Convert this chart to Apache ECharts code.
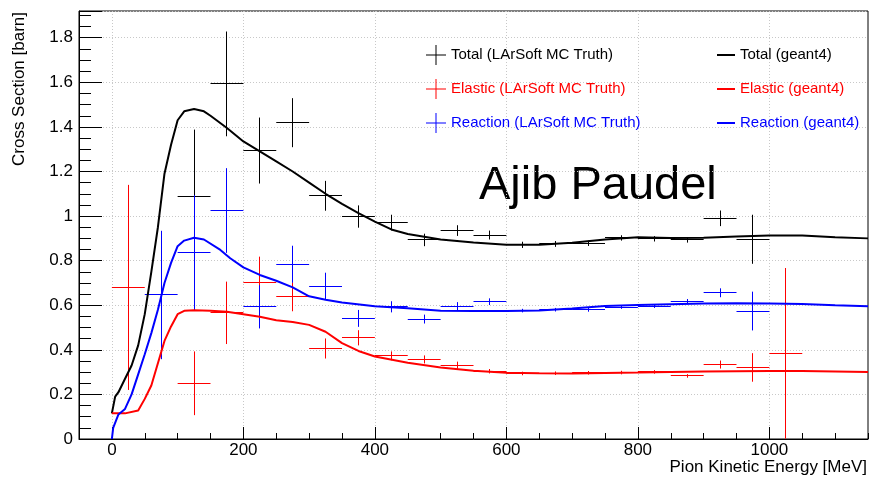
<!DOCTYPE html>
<html>
<head>
<meta charset="utf-8">
<script src="https://cdn.jsdelivr.net/npm/echarts@6.0.0/dist/echarts.min.js"></script>
<style>
  html, body { margin: 0; padding: 0; background: #fff; }
  #chart { width: 869px; height: 477px; }
</style>
</head>
<body>
<div id="chart"></div>
<script>
// bins are 50 MeV wide, centred at 25, 75, ...
const binCenters = [25, 75, 125, 175, 225, 275, 325, 375, 425, 475, 525, 575, 625, 675, 725, 775, 825, 875, 925, 975, 1025];
const binHalfWidth = 25;

// LArSoft MC truth points (null = no point drawn)
const totalMC    = [null, null, 1.088, 1.593, 1.294, 1.419, 1.091, 0.998, 0.971, 0.893, 0.935, 0.915, 0.871, 0.875, 0.878, 0.902, 0.898, 0.893, 0.990, 0.896, null];
const totalMCErr = [null, null, 0.300, 0.235, 0.148, 0.110, 0.067, 0.050, 0.035, 0.028, 0.024, 0.020, 0.014, 0.013, 0.012, 0.012, 0.012, 0.012, 0.035, 0.110, null];
const elasticMC    = [0.680, null, 0.250, 0.566, 0.703, 0.638, 0.406, 0.454, 0.373, 0.357, 0.331, 0.304, 0.294, 0.295, 0.297, 0.298, 0.301, 0.283, 0.334, 0.321, 0.384];
const elasticMCErr = [0.460, null, 0.143, 0.140, 0.115, 0.065, 0.045, 0.034, 0.020, 0.018, 0.016, 0.010, 0.008, 0.008, 0.008, 0.008, 0.008, 0.008, 0.018, 0.064, 0.383];
const reactionMC    = [null, 0.646, 0.836, 1.025, 0.593, 0.784, 0.686, 0.541, 0.593, 0.538, 0.596, 0.616, 0.576, 0.580, 0.581, 0.592, 0.596, 0.616, 0.656, 0.574, null];
const reactionMCErr = [null, 0.288, 0.258, 0.190, 0.097, 0.083, 0.060, 0.038, 0.025, 0.020, 0.018, 0.015, 0.008, 0.008, 0.010, 0.008, 0.008, 0.012, 0.020, 0.087, null];

// geant4 curves
const totalG4X = [0, 5, 10, 20, 30, 40, 50, 60, 70, 80, 90, 100, 110, 125, 140, 150, 175, 200, 225, 250, 275, 300, 325, 350, 375, 400, 425, 450, 500, 550, 600, 650, 700, 750, 800, 850, 900, 950, 1000, 1050, 1100, 1150];
const totalG4  = [0.115, 0.19, 0.21, 0.27, 0.33, 0.42, 0.56, 0.75, 0.95, 1.19, 1.32, 1.43, 1.47, 1.48, 1.47, 1.45, 1.395, 1.335, 1.29, 1.245, 1.20, 1.15, 1.10, 1.055, 1.013, 0.975, 0.94, 0.92, 0.895, 0.881, 0.871, 0.871, 0.88, 0.895, 0.905, 0.902, 0.903, 0.908, 0.913, 0.913, 0.905, 0.90];
const elasticG4X = [0, 20, 40, 50, 60, 70, 80, 90, 100, 110, 125, 150, 175, 200, 225, 250, 275, 300, 325, 350, 375, 400, 450, 500, 550, 600, 650, 700, 750, 800, 850, 900, 950, 1000, 1050, 1100, 1150];
const elasticG4  = [0.115, 0.115, 0.128, 0.18, 0.24, 0.34, 0.44, 0.505, 0.56, 0.575, 0.578, 0.575, 0.571, 0.56, 0.548, 0.533, 0.525, 0.512, 0.481, 0.43, 0.395, 0.37, 0.342, 0.321, 0.306, 0.297, 0.295, 0.294, 0.296, 0.298, 0.301, 0.303, 0.304, 0.305, 0.305, 0.303, 0.301];
const reactionG4X = [0, 2, 10, 20, 30, 40, 50, 60, 70, 80, 90, 100, 110, 125, 140, 165, 180, 200, 225, 250, 275, 300, 325, 350, 400, 450, 500, 550, 600, 650, 700, 750, 800, 850, 900, 950, 1000, 1050, 1100, 1150];
const reactionG4  = [0, 0.05, 0.11, 0.135, 0.2, 0.29, 0.38, 0.475, 0.58, 0.70, 0.79, 0.865, 0.89, 0.903, 0.895, 0.848, 0.811, 0.77, 0.736, 0.71, 0.68, 0.64, 0.625, 0.612, 0.596, 0.586, 0.575, 0.574, 0.574, 0.576, 0.585, 0.597, 0.601, 0.605, 0.608, 0.609, 0.608, 0.606, 0.60, 0.596];

const xMajorTicks = [0, 200, 400, 600, 800, 1000];

const FONT = 'Liberation Sans';
const chart = echarts.init(document.getElementById('chart'));

function points(vals, errs) {
  const out = [];
  binCenters.forEach((x, i) => {
    if (vals[i] != null) out.push([x, vals[i], errs[i]]);
  });
  return out;
}

function curve(xs, ys) {
  return xs.map((x, i) => [x, ys[i]]);
}

// snap to pixel centre so 1px lines stay crisp
const crisp = v => Math.round(v - 0.5) + 0.5;

function errorBars(color) {
  return function (params, api) {
    const x = api.value(0), y = api.value(1), e = api.value(2);
    const l = api.coord([x - binHalfWidth, y]);
    const r = api.coord([x + binHalfWidth, y]);
    const t = api.coord([x, y + e]);
    const b = api.coord([x, Math.max(y - e, 0)]);
    const style = { stroke: color, lineWidth: 1 };
    const cy = crisp(l[1]), cx = crisp(t[0]);
    return {
      type: 'group',
      children: [
        { type: 'line', shape: { x1: l[0], y1: cy, x2: r[0], y2: cy }, style },
        { type: 'line', shape: { x1: cx, y1: t[1], x2: cx, y2: b[1] }, style }
      ]
    };
  };
}

const gridLine = { show: true, lineStyle: { color: '#c8c8c8', type: [1, 2], width: 1 } };
const crossIcon = 'path://M0,9.5H20V10.5H0Z M9.5,0H10.5V20H9.5Z';
const lineIcon = 'path://M0,0H18V2H0Z';

const option = {
  animation: false,
  backgroundColor: '#fff',
  grid: { left: 79, right: 1, top: 11, bottom: 38, show: true, borderColor: '#000', borderWidth: 1, backgroundColor: 'transparent' },
  legend: [
    {
      left: 426, top: 45, padding: 0, orient: 'vertical', itemGap: 14,
      itemWidth: 20, itemHeight: 20,
      textStyle: { fontFamily: FONT, fontSize: 15, lineHeight: 20 },
      data: [
        { name: 'Total (LArSoft MC Truth)', icon: crossIcon, textStyle: { color: '#000' } },
        { name: 'Elastic (LArSoft MC Truth)', icon: crossIcon, textStyle: { color: '#ff0000' } },
        { name: 'Reaction (LArSoft MC Truth)', icon: crossIcon, textStyle: { color: '#0000ff' } }
      ]
    },
    {
      left: 717, top: 45, padding: 0, orient: 'vertical', itemGap: 14,
      itemWidth: 18, itemHeight: 2,
      textStyle: { fontFamily: FONT, fontSize: 15, lineHeight: 20 },
      data: [
        { name: 'Total (geant4)', icon: lineIcon, textStyle: { color: '#000' } },
        { name: 'Elastic (geant4)', icon: lineIcon, textStyle: { color: '#ff0000' } },
        { name: 'Reaction (geant4)', icon: lineIcon, textStyle: { color: '#0000ff' } }
      ]
    }
  ],
  xAxis: [
    {
      type: 'value', min: -50, max: 1150, interval: 50,
      axisLine: { show: true, onZero: false, lineStyle: { color: '#000', width: 1 } },
      axisTick: { show: true, inside: true, length: 6, lineStyle: { color: '#000' } },
      axisLabel: { show: false },
      splitLine: { show: false }
    },
    {
      type: 'value', min: -50, max: 1150, position: 'bottom',
      axisLine: { show: false, onZero: false },
      axisTick: { show: true, inside: true, length: 12, customValues: xMajorTicks, lineStyle: { color: '#000' } },
      axisLabel: { customValues: xMajorTicks, color: '#000', fontFamily: FONT, fontSize: 17, margin: 3, formatter: v => String(v) },
      splitLine: gridLine
    }
  ],
  yAxis: [
    {
      type: 'value', min: 0, max: 1.92, interval: 0.05,
      axisLine: { show: true, onZero: false, lineStyle: { color: '#000', width: 1 } },
      axisTick: { show: true, inside: true, length: 12, lineStyle: { color: '#000' } },
      axisLabel: { show: false },
      splitLine: { show: false }
    },
    {
      type: 'value', min: 0, max: 1.92, interval: 0.2, position: 'left',
      axisLine: { show: false, onZero: false },
      axisTick: { show: true, inside: true, length: 23, lineStyle: { color: '#000' } },
      axisLabel: {
        color: '#000', fontFamily: FONT, fontSize: 17, margin: 6,
        formatter: v => (Math.abs(v / 0.2 - Math.round(v / 0.2)) < 1e-6 ? String(Math.round(v * 10) / 10) : '')
      },
      splitLine: gridLine
    }
  ],
  graphic: [
    {
      type: 'text', x: 19, y: 12, rotation: Math.PI / 2,
      style: { text: 'Cross Section [barn]', fill: '#000', font: '17px "' + FONT + '"', align: 'right', verticalAlign: 'middle' }
    },
    {
      type: 'text', x: 867, y: 467,
      style: { text: 'Pion Kinetic Energy [MeV]', fill: '#000', font: '17px "' + FONT + '"', align: 'right', verticalAlign: 'middle' }
    },
    {
      type: 'text', x: 479, y: 186,
      style: { text: 'Ajib Paudel', fill: '#000', font: '47px "' + FONT + '"', align: 'left', verticalAlign: 'middle' }
    }
  ],
  series: [
    { name: 'Total (LArSoft MC Truth)', type: 'custom', xAxisIndex: 0, yAxisIndex: 0, itemStyle: { color: '#000' }, renderItem: errorBars('#000'), data: points(totalMC, totalMCErr), z: 3 },
    { name: 'Elastic (LArSoft MC Truth)', type: 'custom', xAxisIndex: 0, yAxisIndex: 0, itemStyle: { color: '#ff0000' }, renderItem: errorBars('#ff0000'), data: points(elasticMC, elasticMCErr), z: 3 },
    { name: 'Reaction (LArSoft MC Truth)', type: 'custom', xAxisIndex: 0, yAxisIndex: 0, itemStyle: { color: '#0000ff' }, renderItem: errorBars('#0000ff'), data: points(reactionMC, reactionMCErr), z: 3 },
    { name: 'Total (geant4)', type: 'line', xAxisIndex: 0, yAxisIndex: 0, color: '#000', showSymbol: false, lineStyle: { width: 2, color: '#000' }, data: curve(totalG4X, totalG4), z: 4 },
    { name: 'Elastic (geant4)', type: 'line', xAxisIndex: 0, yAxisIndex: 0, color: '#ff0000', showSymbol: false, lineStyle: { width: 2, color: '#ff0000' }, data: curve(elasticG4X, elasticG4), z: 4 },
    { name: 'Reaction (geant4)', type: 'line', xAxisIndex: 0, yAxisIndex: 0, color: '#0000ff', showSymbol: false, lineStyle: { width: 2, color: '#0000ff' }, data: curve(reactionG4X, reactionG4), z: 4 }
  ]
};

chart.setOption(option);
</script>
</body>
</html>
